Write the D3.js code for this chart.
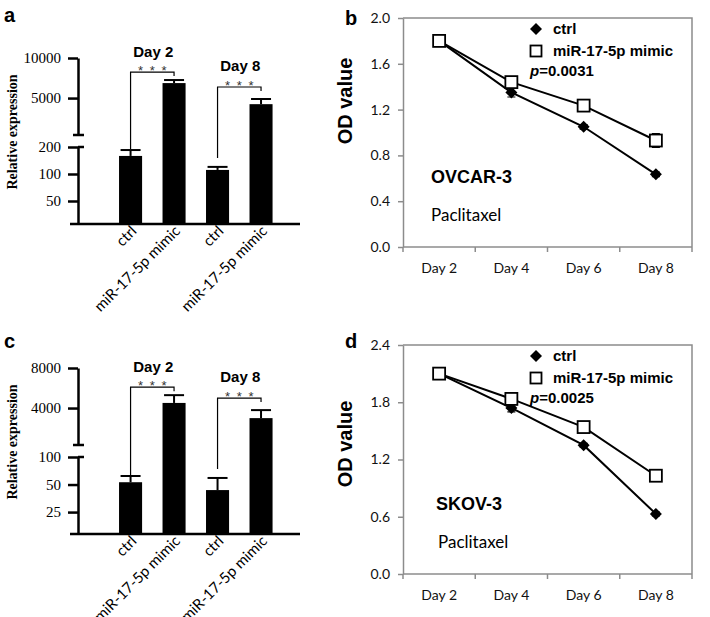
<!DOCTYPE html>
<html><head><meta charset="utf-8">
<script src="https://cdn.jsdelivr.net/npm/d3@7"></script>
<style>body{margin:0;background:#fff}svg{display:block}</style>
</head><body>
<script>
// ---------- data ----------
const barCategories = ["ctrl","miR-17-5p mimic","ctrl","miR-17-5p mimic"];
const barGroups = ["Day 2","Day 8"];
const aValues = [159, 6480, 111, 4500];
const aErrors = [26, 350, 9, 420];
const aLowerDomain = [27.7, 200];
const aUpperDomain = [2640, 10000];
const aLowerTicks = [50, 100, 200];
const aUpperTicks = [5000, 10000];
const cValues = [53, 4370, 43.5, 3360];
const cErrors = [9, 630, 15.5, 500];
const cLowerDomain = [14.4, 100];
const cUpperDomain = [2110, 8000];
const cLowerTicks = [25, 50, 100];
const cUpperTicks = [4000, 8000];

const days = ["Day 2","Day 4","Day 6","Day 8"];
const seriesNames = ["ctrl","miR-17-5p mimic"];
const bCtrl = [1.80, 1.35, 1.05, 0.635];
const bCtrlErr = [0.04, 0.04, 0.02, 0.02];
const bMimic = [1.80, 1.44, 1.235, 0.93];
const bMimicErr = [0.04, 0.04, 0.05, 0.06];
const bTicks = [0, 0.4, 0.8, 1.2, 1.6, 2.0];
const dCtrl = [2.10, 1.74, 1.35, 0.63];
const dCtrlErr = [0.04, 0.04, 0.02, 0.02];
const dMimic = [2.10, 1.835, 1.54, 1.03];
const dMimicErr = [0.05, 0.04, 0.04, 0.05];
const dTicks = [0, 0.6, 1.2, 1.8, 2.4];

const SANS = "'Liberation Sans', Arial, sans-serif";
const SERIF = "'Liberation Serif', 'Times New Roman', serif";
const CAL = "Lato, 'Open Sans', sans-serif";

const svg = d3.select("body").append("svg").attr("width", 710).attr("height", 617);

// diamond marker shape (square rotated 45 degrees)
const diamondPath = r => `M0,${-r}L${r},0L0,${r}L${-r},0Z`;

// ---------- bar panels ----------
function barPanel(dy, letter, letterY, values, errs, lowDom, upDom, lowTicks, upTicks) {
  const g = svg.append("g").attr("transform", `translate(0,${dy})`);
  svg.append("text").attr("x", 4).attr("y", letterY).text(letter)
    .attr("font-family", SANS).attr("font-weight", "bold").attr("font-size", 20);

  const x = d3.scaleBand().domain(d3.range(values.length)).range([98.6, 293])
    .paddingInner(0.47).paddingOuter(0.47);
  const yLow = d3.scaleLog().domain(lowDom).range([224, 147]);
  const yUp = d3.scaleLog().domain(upDom).range([135, 58]);
  const yPos = v => v >= upDom[0] ? yUp(v) : yLow(v);
  const bw = x.bandwidth();

  g.selectAll("rect.bar").data(values).join("rect")
    .attr("x", (d, i) => x(i)).attr("width", bw)
    .attr("y", d => yPos(d)).attr("height", d => 224 - yPos(d))
    .attr("fill", "#000");
  values.forEach((v, i) => {
    const cx = x(i) + bw / 2, yt = yPos(v + errs[i]);
    g.append("line").attr("x1", cx).attr("x2", cx).attr("y1", yPos(v)).attr("y2", yt)
      .attr("stroke", "#000").attr("stroke-width", 2);
    g.append("line").attr("x1", cx - 10).attr("x2", cx + 10).attr("y1", yt).attr("y2", yt)
      .attr("stroke", "#000").attr("stroke-width", 2);
  });

  const styleAxis = sel => {
    sel.select(".domain").attr("stroke", "#000").attr("stroke-width", 2.5);
    sel.selectAll(".tick line").attr("stroke", "#000").attr("stroke-width", 2.5);
    sel.selectAll(".tick text").attr("font-family", SERIF).attr("font-size", 15).attr("fill", "#000");
  };
  g.append("g").attr("transform", "translate(78,0)")
    .call(d3.axisLeft(yLow).tickValues(lowTicks).tickSize(10).tickSizeOuter(0).tickPadding(7).tickFormat(d3.format("d")))
    .call(styleAxis);
  g.append("g").attr("transform", "translate(78,0)")
    .call(d3.axisLeft(yUp).tickValues(upTicks).tickSize(10).tickSizeOuter(0).tickPadding(7).tickFormat(d3.format("d")))
    .call(styleAxis);
  g.append("line").attr("x1", 73).attr("x2", 84).attr("y1", 135).attr("y2", 135)
    .attr("stroke", "#000").attr("stroke-width", 2.5);
  g.append("line").attr("x1", 78).attr("x2", 84).attr("y1", 147).attr("y2", 147)
    .attr("stroke", "#000").attr("stroke-width", 2.5);
  g.append("line").attr("x1", 70).attr("x2", 300).attr("y1", 224).attr("y2", 224)
    .attr("stroke", "#000").attr("stroke-width", 2.5);
  g.selectAll("text.xl").data(barCategories).join("text")
    .attr("transform", (d, i) => `translate(${x(i) + bw / 2 + 7},${232}) rotate(-45)`)
    .attr("text-anchor", "end").attr("font-family", CAL).attr("font-size", 15).text(d => d);
  g.append("text").attr("transform", "translate(17,132) rotate(-90)")
    .attr("text-anchor", "middle").attr("font-family", SERIF).attr("font-weight", "bold")
    .attr("font-size", 14).text("Relative expression");

  const hOff = [8, 12], lOff = [1, 9], labOff = [15, 16];
  barGroups.forEach((lab, k) => {
    const i0 = 2 * k, i1 = 2 * k + 1;
    const x0 = x(i0) + bw / 2, x1 = x(i1) + bw / 2;
    const hY = yPos(values[i1] + errs[i1]) - hOff[k];
    const lY = yPos(values[i0] + errs[i0]) - lOff[k];
    g.append("path").attr("d", `M${x0},${lY}V${hY}H${x1}V${hY + 4}`)
      .attr("fill", "none").attr("stroke", "#000").attr("stroke-width", 1.2);
    [-11.7, 0, 11.7].forEach(o => {
      g.append("text").attr("x", (x0 + x1) / 2 + o).attr("y", hY + 3).attr("text-anchor", "middle")
        .attr("font-family", SANS).attr("font-size", 13).attr("fill", "#333").text("*");
    });
    g.append("text").attr("x", (x0 + x1) / 2 + 1).attr("y", hY - labOff[k]).attr("text-anchor", "middle")
      .attr("font-family", SANS).attr("font-weight", "bold").attr("font-size", 15).text(lab);
  });
}

barPanel(0, "a", 22, aValues, aErrors, aLowerDomain, aUpperDomain, aLowerTicks, aUpperTicks);
barPanel(310, "c", 348, cValues, cErrors, cLowerDomain, cUpperDomain, cLowerTicks, cUpperTicks);

// ---------- line panels ----------
function linePanel(dy, letter, letterY, ctrl, ctrlErr, mimic, mimicErr, ticks, pText, cellName, cellX, pacX, labelCY) {
  const g = svg.append("g").attr("transform", `translate(0,${dy})`);
  svg.append("text").attr("x", 345).attr("y", letterY).text(letter)
    .attr("font-family", SANS).attr("font-weight", "bold").attr("font-size", 20);

  const x = d3.scaleBand().domain(days).range([403, 692]);
  const y = d3.scaleLinear().domain([0, ticks[ticks.length - 1]]).range([247, 18]);
  const cx = d => x(d) + x.bandwidth() / 2;
  const frame = "#8c8c8c";

  g.append("path").attr("d", `M403,18H692V247`).attr("fill", "none").attr("stroke", frame).attr("stroke-width", 1.5);
  const ya = g.append("g").attr("transform", "translate(403,0)")
    .call(d3.axisLeft(y).tickValues(ticks).tickSize(5).tickSizeOuter(0).tickPadding(8).tickFormat(d3.format(".1f")));
  ya.select(".domain").attr("stroke", frame).attr("stroke-width", 1.5);
  ya.selectAll(".tick line").attr("stroke", frame).attr("stroke-width", 1.5);
  ya.selectAll(".tick text").attr("font-family", CAL).attr("font-size", 14).attr("fill", "#111");
  g.append("line").attr("x1", 403).attr("x2", 692).attr("y1", 247).attr("y2", 247).attr("stroke", frame).attr("stroke-width", 1.5);
  const bounds = days.map(d => x(d)).concat([692]);
  g.selectAll("line.xt").data(bounds).join("line")
    .attr("x1", d => d).attr("x2", d => d).attr("y1", 247).attr("y2", 252)
    .attr("stroke", frame).attr("stroke-width", 1.5);
  g.selectAll("text.xl").data(days).join("text")
    .attr("x", d => cx(d)).attr("y", 273).attr("text-anchor", "middle")
    .attr("font-family", CAL).attr("font-size", 14).attr("fill", "#111").text(d => d);
  g.append("text").attr("transform", `translate(352,${labelCY}) rotate(-90)`)
    .attr("text-anchor", "middle").attr("font-family", SANS).attr("font-weight", "bold")
    .attr("font-size", 20).text("OD value");

  const line = d3.line().x((d, i) => cx(days[i])).y(d => y(d));
  g.append("path").attr("d", line(ctrl)).attr("fill", "none").attr("stroke", "#000").attr("stroke-width", 2);
  g.append("path").attr("d", line(mimic)).attr("fill", "none").attr("stroke", "#000").attr("stroke-width", 2);
  [[ctrl, ctrlErr], [mimic, mimicErr]].forEach(([vals, errs]) => {
    vals.forEach((v, i) => {
      const px = cx(days[i]);
      g.append("path").attr("d", `M${px},${y(v - errs[i])}V${y(v + errs[i])}M${px - 4},${y(v - errs[i])}H${px + 4}M${px - 4},${y(v + errs[i])}H${px + 4}`)
        .attr("stroke", "#000").attr("stroke-width", 1.2).attr("fill", "none");
    });
  });
  g.selectAll("path.dm").data(ctrl).join("path")
    .attr("transform", (d, i) => `translate(${cx(days[i])},${y(d)})`)
    .attr("d", diamondPath(6)).attr("fill", "#000");
  g.selectAll("rect.sq").data(mimic).join("rect")
    .attr("x", (d, i) => cx(days[i]) - 6).attr("y", d => y(d) - 6)
    .attr("width", 12).attr("height", 12).attr("fill", "#fff").attr("stroke", "#000").attr("stroke-width", 1.8);

  g.append("path").attr("transform", "translate(536,29)").attr("d", diamondPath(6)).attr("fill", "#000");
  g.append("rect").attr("x", 530.5).attr("y", 45.5).attr("width", 11).attr("height", 11)
    .attr("fill", "#fff").attr("stroke", "#000").attr("stroke-width", 1.8);
  g.append("text").attr("x", 553).attr("y", 34).attr("font-family", SANS).attr("font-weight", "bold").attr("font-size", 15).text(seriesNames[0]);
  g.append("text").attr("x", 553).attr("y", 56).attr("font-family", SANS).attr("font-weight", "bold").attr("font-size", 15).text(seriesNames[1]);
  const pt = g.append("text").attr("x", 530).attr("y", 76).attr("font-family", SANS).attr("font-weight", "bold").attr("font-size", 15);
  pt.append("tspan").attr("font-style", "italic").text("p");
  pt.append("tspan").text("=" + pText);

  g.append("text").attr("x", cellX).attr("y", 183).attr("font-family", SANS).attr("font-weight", "bold").attr("font-size", 18).text(cellName);
  g.append("text").attr("x", pacX).attr("y", 221).attr("font-family", CAL).attr("font-size", 17).text("Paclitaxel");
}

linePanel(0, "b", 25, bCtrl, bCtrlErr, bMimic, bMimicErr, bTicks, "0.0031", "OVCAR-3", 431, 431, 101);
linePanel(327, "d", 348, dCtrl, dCtrlErr, dMimic, dMimicErr, dTicks, "0.0025", "SKOV-3", 436, 438, 117);
</script>
</body></html>
